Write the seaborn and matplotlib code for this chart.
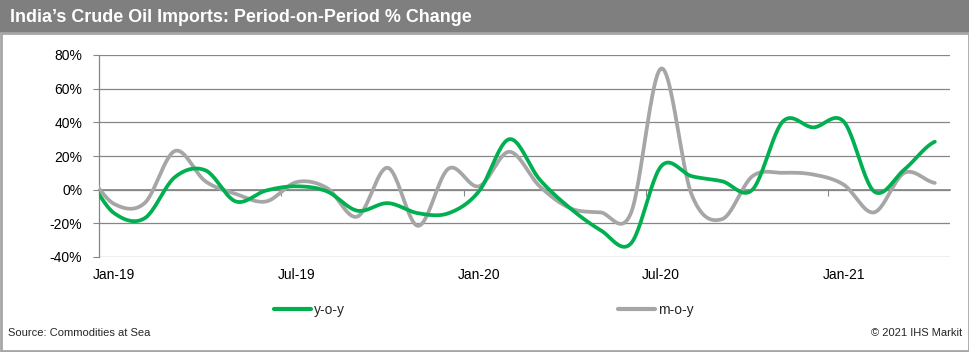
import numpy as np
import pandas as pd
import matplotlib
matplotlib.use("Agg")
import matplotlib.pyplot as plt
from matplotlib.patches import Rectangle
import seaborn as sns

# ---- data (monthly, % change), Dec-18 is only partly visible at the left edge ----
months = list(pd.date_range("2018-12-01", periods=29, freq="MS").strftime("%b-%y"))
yoy = [8, -14, -17, 7.5, 11.5, -7, -0.5, 2, -1, -12.5, -8, -14, -14,
       -1, 30, 6, -11, -24, -32, 14, 8, 5, 0, 40.5, 37, 40.5, -1, 12, 28.5]
mom = [10, -8.5, -8, 23, 5, -2.5, -7, 4.5, 1, -16, 13, -21.5, 12.5,
       2, 22.5, 2, -11, -13.5, -14, 72, -3, -17.5, 8, 10, 9, 3, -13.5, 10, 4]
tick_labels = ["Jan-19", "Jul-19", "Jan-20", "Jul-20", "Jan-21"]
y_ticks = [-40, -20, 0, 20, 40, 60, 80]
series_names = ["y-o-y", "m-o-y"]
colors = ["#00B050", "#A6A6A6"]

title = "India\u2019s Crude Oil Imports: Period-on-Period % Change"
source = "Source: Commodities at Sea"
credit = "\u00a9 2021 IHS Markit"

sns.set_theme(style="white")
plt.rcParams["font.family"] = ["Liberation Sans", "DejaVu Sans"]

W, H = 970, 352
fig = plt.figure(figsize=(W / 100, H / 100), dpi=100)
fig.patch.set_facecolor("white")

def fx(px):
    return px / W

def fy(py):
    return 1 - py / H

# month index: Jan-19 = 0
xidx = np.arange(len(months)) - 1


def smooth(x, y, n=24):
    """Excel-style smoothed line (Catmull-Rom through the data points)."""
    y = np.asarray(y, float)
    x = np.asarray(x, float)
    pts = np.concatenate([[y[0]], y, [y[-1]]])
    xs, ys = [], []
    for i in range(len(y) - 1):
        p0, p1, p2, p3 = pts[i], pts[i + 1], pts[i + 2], pts[i + 3]
        m1 = (p2 - p0) / 2
        m2 = (p3 - p1) / 2
        t = np.linspace(0, 1, n, endpoint=(i == len(y) - 2))
        h00 = 2 * t**3 - 3 * t**2 + 1
        h10 = t**3 - 2 * t**2 + t
        h01 = -2 * t**3 + 3 * t**2
        h11 = t**3 - t**2
        ys.append(h00 * p1 + h10 * m1 + h01 * p2 + h11 * m2)
        xs.append(x[i] + t * (x[i + 1] - x[i]))
    return np.concatenate(xs), np.concatenate(ys)


ax = fig.add_axes([fx(99), fy(257), fx(950) - fx(99), fy(55) - fy(257)])

frames = []
for name, vals in zip(series_names, [yoy, mom]):
    sx, sy = smooth(xidx, vals)
    frames.append(pd.DataFrame({"x": sx, "y": sy, "series": name}))
df = pd.concat(frames, ignore_index=True)

for name, col, z in [("m-o-y", colors[1], 3), ("y-o-y", colors[0], 4)]:
    sub = df[df["series"] == name]
    sns.lineplot(data=sub, x="x", y="y", color=col, lw=2.7, ax=ax,
                 sort=False, estimator=None, zorder=z, label=name, legend=False)

ax.set_xlim(-0.5, 27.5)
ax.set_ylim(-40, 80)
ax.set_xlabel("")
ax.set_ylabel("")

grid_col = "#868686"
ax.set_yticks(y_ticks)
ax.set_yticklabels([f"{v}%" for v in y_ticks], fontsize=10, color="#000000")
ax.yaxis.grid(True, color=grid_col, lw=0.9)
ax.set_axisbelow(True)
ax.tick_params(axis="y", length=4, width=0.8, color=grid_col, direction="out", pad=8, left=True)

ax.set_xticks([0, 6, 12, 18, 24])
ax.set_xticklabels(tick_labels, fontsize=10, color="#000000")
ax.tick_params(axis="x", length=0, pad=8)

for s in ["top", "right", "bottom"]:
    ax.spines[s].set_visible(False)
ax.spines["left"].set_color(grid_col)
ax.spines["left"].set_linewidth(0.9)

# x axis line at 0% with category-boundary tick marks
sec = ax.secondary_xaxis(40 / 120)
sec.set_xticks([-0.5, 5.5, 11.5, 17.5, 23.5])
sec.set_xticklabels([])
sec.tick_params(axis="x", length=4, width=0.8, color=grid_col, direction="out")
sec.spines["bottom"].set_color("#777777")
sec.spines["bottom"].set_linewidth(1.1)

# title bar
fig.patches.append(Rectangle((0, fy(33)), 1, 33 / H, transform=fig.transFigure,
                             facecolor="#7f7f7f", edgecolor="none", zorder=0))
fig.text(fx(10), fy(17), title, color="white", fontsize=12.9, fontweight="bold",
         va="center", ha="left")

# outer border
fig.patches.append(Rectangle((fx(1), fy(351)), fx(968), (351 - 33) / H,
                             transform=fig.transFigure, fill=False,
                             edgecolor="#a6a6a6", lw=2, zorder=0))

# legend
handles, labels = ax.get_legend_handles_labels()
order = [labels.index("y-o-y"), labels.index("m-o-y")]
leg = fig.legend([handles[i] for i in order], [labels[i] for i in order],
                 loc="center left", bbox_to_anchor=(fx(274), fy(310)), ncol=2,
                 frameon=False, fontsize=10, handlelength=2.7, handletextpad=0.2,
                 columnspacing=19.6, borderpad=0, borderaxespad=0)
for lh in leg.get_lines():
    lh.set_linewidth(3)

fig.text(fx(8), fy(333), source, fontsize=8, va="center", ha="left")
fig.text(fx(962), fy(333), credit, fontsize=8, va="center", ha="right")

fig.savefig("out.png", dpi=100, facecolor="white")
